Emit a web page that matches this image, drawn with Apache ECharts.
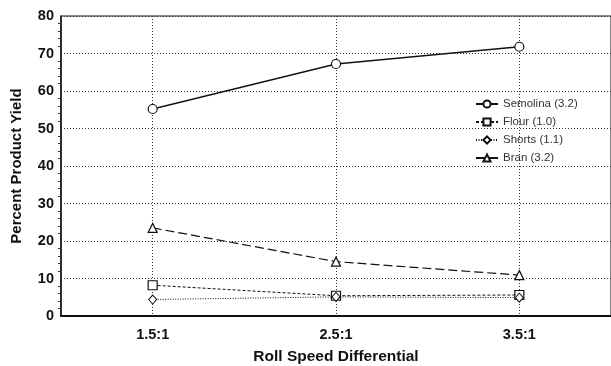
<!DOCTYPE html>
<html>
<head>
<meta charset="utf-8">
<script src="https://cdn.jsdelivr.net/npm/echarts@6/dist/echarts.min.js"></script>
<style>
  html, body { margin: 0; padding: 0; background: #fff; }
  #main { width: 611px; height: 366px; }
</style>
</head>
<body>
<div id="main"></div>
<script>
var categories = ["1.5:1", "2.5:1", "3.5:1"];
var seriesNames = ["Semolina (3.2)", "Flour (1.0)", "Shorts (1.1)", "Bran (3.2)"];
var semolina = [55.2, 67.2, 71.8];
var flour = [8.2, 5.4, 5.6];
var shorts = [4.4, 5.1, 4.9];
var bran = [23.5, 14.5, 10.9];
var yTicks = [0, 10, 20, 30, 40, 50, 60, 70, 80];

function init_chart(container) {
  var chartDom = document.getElementById(container);
  var myChart = echarts.init(chartDom);
  var option;

  var fontFam = "Liberation Sans, Arial, Helvetica, sans-serif";
  var gridDot = {
    show: true,
    lineStyle: { color: "#333", type: [1, 2], width: 1 },
  };

  option = {
    backgroundColor: "#fff",
    animation: false,
    grid: {
      left: 61,
      right: 0,
      top: 16,
      bottom: 50,
      outerBoundsMode: "none",
      containLabel: false,
      show: true,
      borderColor: "#111",
      borderWidth: 1,
    },
    legend: {
      orient: "vertical",
      left: 470,
      top: 93,
      itemWidth: 22,
      itemHeight: 9,
      itemGap: 6,
      data: seriesNames,
      textStyle: { fontFamily: fontFam, fontSize: 11.5, color: "#333" },
    },
    xAxis: {
      type: "category",
      data: categories,
      boundaryGap: true,
      name: "Roll Speed Differential",
      nameLocation: "middle",
      nameGap: 33,
      nameTextStyle: {
        fontFamily: fontFam,
        fontWeight: "bold",
        fontSize: 15.5,
        color: "#111",
      },
      axisLine: { lineStyle: { color: "#111", width: 2 } },
      axisTick: { show: false },
      axisLabel: {
        margin: 11,
        fontFamily: fontFam,
        fontWeight: "bold",
        fontSize: 14.5,
        color: "#111",
      },
      splitLine: {
        show: true,
        alignWithLabel: true,
        lineStyle: { color: "#333", type: [1, 2], width: 1 },
      },
    },
    yAxis: {
      type: "value",
      min: yTicks[0],
      max: yTicks[yTicks.length - 1],
      interval: 10,
      name: "Percent Product Yield",
      nameLocation: "middle",
      nameGap: 37,
      nameTextStyle: {
        fontFamily: fontFam,
        fontWeight: "bold",
        fontSize: 15,
        color: "#111",
      },
      axisLine: { show: true, lineStyle: { color: "#111", width: 1.5 } },
      axisTick: { show: false },
      minorTick: {
        show: true,
        splitNumber: 5,
        length: 3,
        lineStyle: { color: "#333" },
      },
      axisLabel: {
        margin: 7,
        fontFamily: fontFam,
        fontWeight: "bold",
        fontSize: 14.5,
        color: "#111",
      },
      splitLine: gridDot,
    },
    series: [
      {
        name: seriesNames[0],
        type: "line",
        data: semolina,
        symbol: "circle",
        symbolSize: 9,
        itemStyle: { color: "#fff", borderColor: "#111", borderWidth: 1.2 },
        lineStyle: { color: "#111", width: 1.3, type: "solid" },
      },
      {
        name: seriesNames[1],
        type: "line",
        data: flour,
        symbol: "rect",
        symbolSize: 9,
        itemStyle: { color: "#fff", borderColor: "#111", borderWidth: 1.2 },
        lineStyle: { color: "#111", width: 1, type: [3, 2] },
      },
      {
        name: seriesNames[2],
        type: "line",
        data: shorts,
        symbol: "diamond",
        symbolSize: [8, 9],
        itemStyle: { color: "#fff", borderColor: "#111", borderWidth: 1 },
        lineStyle: { color: "#111", width: 1, type: [1, 1.5] },
      },
      {
        name: seriesNames[3],
        type: "line",
        data: bran,
        symbol: "triangle",
        symbolSize: 9,
        itemStyle: { color: "#fff", borderColor: "#111", borderWidth: 1.2 },
        lineStyle: { color: "#111", width: 1.2, type: [9, 4] },
      },
    ],
  };

  option && myChart.setOption(option);
  window.addEventListener("resize", function () {
    myChart.resize();
  });
}

init_chart("main");
</script>
</body>
</html>
